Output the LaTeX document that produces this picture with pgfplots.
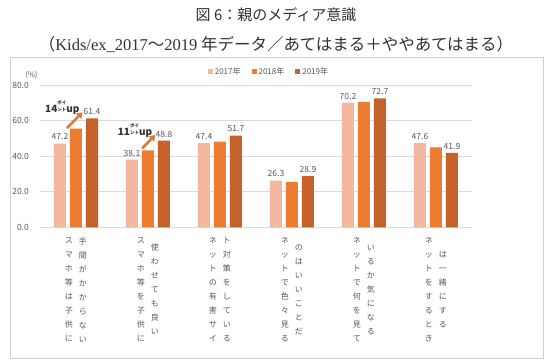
\documentclass[border=0pt]{standalone}
\usepackage{fontspec}
\setmainfont{Noto Sans CJK JP}
\newfontfamily\timesf{Liberation Serif}
\usepackage{pgfplots}
\pgfplotsset{compat=1.18}
\usetikzlibrary{arrows.meta}
\definecolor{c17}{HTML}{F4B8A0}
\definecolor{c18}{HTML}{ED7D31}
\definecolor{c19}{HTML}{C5622A}
\definecolor{gridc}{HTML}{D9D9D9}
\definecolor{framec}{HTML}{D0D0D0}
\definecolor{txtc}{HTML}{595959}
\definecolor{titlec}{HTML}{333333}
\definecolor{arrc}{HTML}{DE7A35}
\newcommand{\vcol}[1]{\parbox[c]{9pt}{\fontsize{8}{14}\selectfont\centering #1\par}}
\newcommand{\vlab}[2]{\vcol{#1}\hspace{5pt}\vcol{#2}}
\newcommand{\pt}{\raisebox{0.2ex}{\fontsize{4.5}{4.5}\selectfont\shortstack{ポイ\\ント}}}
\begin{document}
\begin{tikzpicture}[x=1pt,y=1pt]
\path[use as bounding box, fill=white] (0,0) rectangle (552,364);
\draw[framec, line width=0.8pt] (10,6) rectangle (543,307);
\node[font=\fontsize{15}{15}\selectfont, text=titlec] at (276,349) {図 6：親のメディア意識};
\node[font=\fontsize{16.5}{17}\selectfont, text=titlec] at (276,319) {（{\timesf Kids/ex\_2017}～{\timesf 2019} 年データ／あてはまる＋ややあてはまる）};
\node[font=\fontsize{7.5}{8}\selectfont, text=txtc] at (31.5,289) {(\%)};
\begin{axis}[
  at={(40pt,136.7pt)}, anchor=south west,
  scale only axis, width=432pt, height=142pt,
  ybar=4pt, bar width=12pt,
  xmin=-0.5, xmax=5.5, ymin=0, ymax=80,
  ytick={0,20,40,60,80},
  xtick={0,1,2,3,4,5},
  xticklabels={
    {\vlab{ス\\マ\\ホ\\等\\は\\子\\供\\に}{手\\間\\が\\か\\か\\ら\\な\\い}},
    {\vlab{ス\\マ\\ホ\\等\\を\\子\\供\\に}{使\\わ\\せ\\て\\も\\良\\い}},
    {\vlab{ネ\\ッ\\ト\\の\\有\\害\\サ\\イ}{ト\\対\\策\\を\\し\\て\\い\\る}},
    {\vlab{ネ\\ッ\\ト\\で\\色\\々\\見\\る}{の\\は\\い\\い\\こ\\と\\だ}},
    {\vlab{ネ\\ッ\\ト\\で\\何\\を\\見\\て}{い\\る\\か\\気\\に\\な\\る}},
    {\vlab{ネ\\ッ\\ト\\を\\す\\る\\と\\き}{は\\一\\緒\\に\\す\\る}}
  },
  axis line style={draw=none},
  major tick length=0pt,
  xtick pos=bottom, ytick pos=left,
  ymajorgrids, grid style={draw=gridc, line width=0.8pt},
  /pgf/number format/assume math mode=true,
  yticklabel={\pgfmathprintnumber[fixed,fixed zerofill,precision=1]{\tick}},
  yticklabel style={font=\fontsize{8.5}{9}\selectfont, text=txtc, inner sep=0pt, anchor=east, xshift=-11pt},
  xticklabel style={text=txtc, inner sep=0pt, anchor=north, yshift=-10pt},
  legend columns=3,
  legend style={draw=none, fill=none, at={(0.53,1.096)}, anchor=center,
    font=\fontsize{8}{9}\selectfont, text=txtc,
    /tikz/every even column/.append style={column sep=9pt}},
  legend image code/.code={\fill[#1, draw=none] (0pt,-2.5pt) rectangle (5pt,2.5pt);},
  every node near coord/.append style={font=\fontsize{8.5}{9}\selectfont, text=txtc,
    /pgf/number format/fixed, /pgf/number format/fixed zerofill, /pgf/number format/precision=1},
]
\addplot[fill=c17, draw=none, nodes near coords] coordinates {(0,47.2) (1,38.1) (2,47.4) (3,26.3) (4,70.2) (5,47.6)};
\addplot[fill=c18, draw=none] coordinates {(0,55.6) (1,43.4) (2,48.2) (3,25.5) (4,70.5) (5,45.0)};
\addplot[fill=c19, draw=none, nodes near coords] coordinates {(0,61.4) (1,48.8) (2,51.7) (3,28.9) (4,72.7) (5,41.9)};
\legend{2017年,2018年,2019年}
\draw[arrc, line width=2.6pt, -{Triangle[width=7.5pt,length=5.5pt]}] (axis cs:-0.125,55.9) -- (axis cs:0.09,64.8);
\draw[arrc, line width=2.6pt, -{Triangle[width=7.5pt,length=5.5pt]}] (axis cs:0.92,44.5) -- (axis cs:1.10,52.0);
\node[font=\fontsize{10}{10}\selectfont\bfseries, text=titlec, inner sep=0pt] at (axis cs:-0.19,67.2) {14\pt up};
\node[font=\fontsize{10}{10}\selectfont\bfseries, text=titlec, inner sep=0pt] at (axis cs:0.82,54.4) {11\pt up};
\end{axis}
\end{tikzpicture}
\end{document}
